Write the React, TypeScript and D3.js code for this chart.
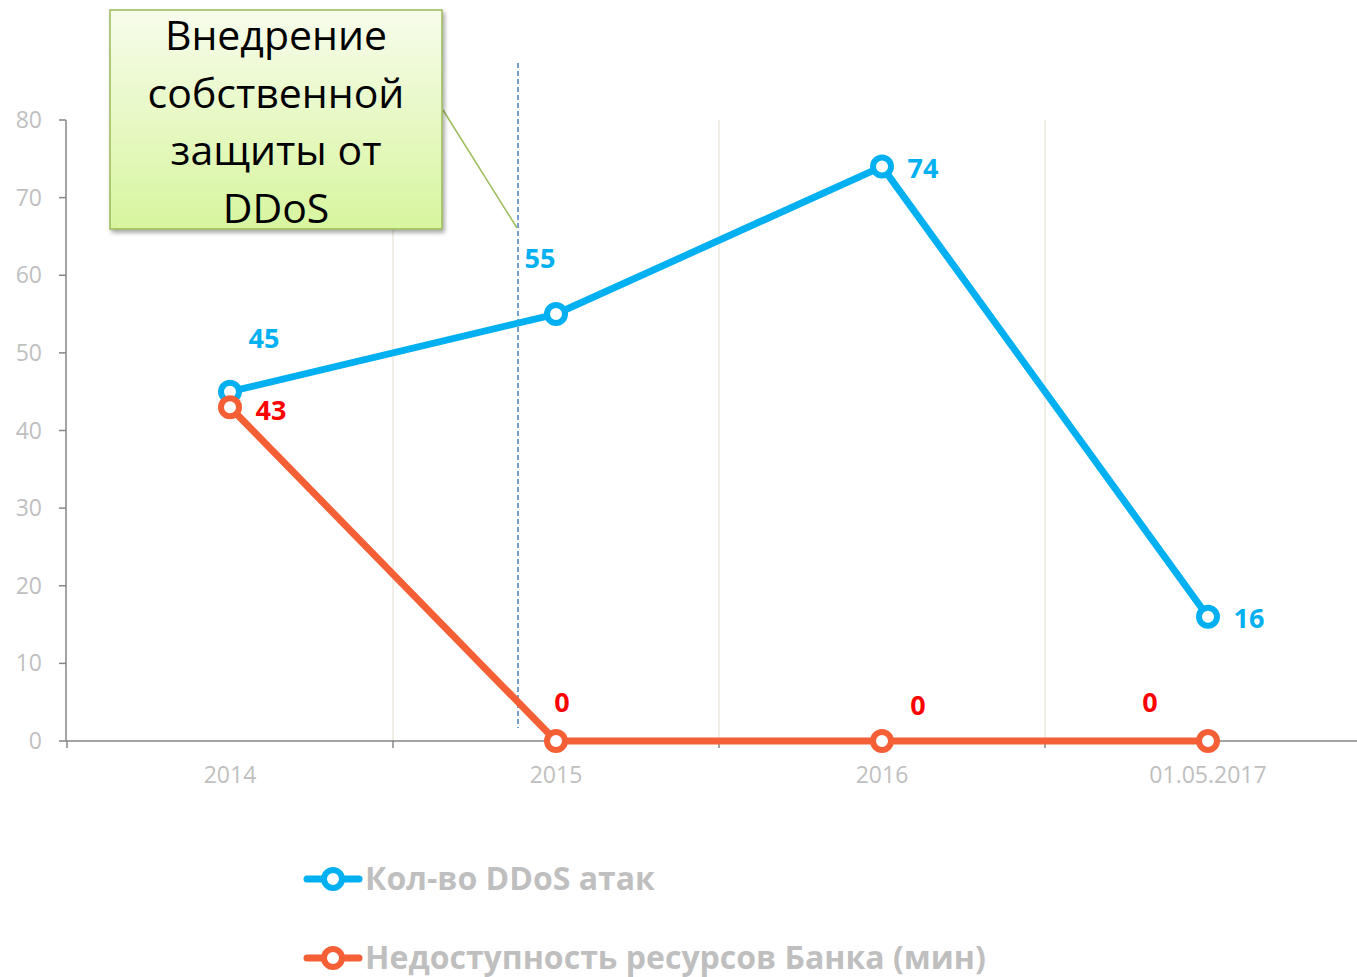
import React from 'react'
import * as d3 from 'd3'

const categories = ['2014', '2015', '2016', '01.05.2017']
const attacks = [45, 55, 74, 16]
const downtime = [43, 0, 0, 0]
const yTicks = [0, 10, 20, 30, 40, 50, 60, 70, 80]
const seriesNames = ['Кол-во DDoS атак', 'Недоступность ресурсов Банка (мин)']
const calloutLines = ['Внедрение', 'собственной', 'защиты от', 'DDoS']
// label offsets from their point (dx, dy)
const attackLabelOffsets = [[34, -53], [-16, -56], [41, 2], [41, 2]]
const downtimeLabelOffsets = [[41, 3], [6, -38], [36, -35], [-58, -38]]

const W = 1357
const H = 977
const BLUE = '#00B0F0'
const ORANGE = '#F55F35'
const FONT = '"Open Sans", sans-serif'

export default function App() {
  const x = d3.scaleBand().domain(categories).range([67, 1371])
  const cx = (c: string) => (x(c) as number) + x.bandwidth() / 2
  const y = d3.scaleLinear().domain([0, 80]).range([741, 120])

  const line = d3.line<number>()
    .x((_, i) => cx(categories[i]))
    .y(d => y(d))

  const bounds = categories.map(c => x(c) as number).concat([x.range()[1]])

  return (
    <svg width={W} height={H} style={{ position: 'absolute', left: 0, top: 0 }} fontFamily={FONT}>
      <defs>
        <linearGradient id="callout" x1="0" y1="0" x2="0" y2="1">
          <stop offset="0" stopColor="#f7fcec" />
          <stop offset="1" stopColor="#d7f59e" />
        </linearGradient>
        <filter id="shadow" x="-10%" y="-10%" width="130%" height="130%">
          <feDropShadow dx="2" dy="3" stdDeviation="2" floodColor="#000" floodOpacity="0.35" />
        </filter>
      </defs>

      {/* vertical gridlines */}
      {bounds.slice(1, 4).map((b, i) => (
        <line key={i} x1={b} x2={b} y1={y(80)} y2={y(0)} stroke="#ebe8dc" strokeWidth={1.5} />
      ))}

      {/* y axis */}
      <line x1={66} x2={66} y1={y(80)} y2={y(0)} stroke="#868686" strokeWidth={1.5} />
      {yTicks.map(t => (
        <g key={t}>
          <line x1={59} x2={66} y1={y(t)} y2={y(t)} stroke="#868686" strokeWidth={1.5} />
          <text x={42} y={y(t)} dy="0.35em" textAnchor="end" fontSize={23} fill="#bfbfbf">{t}</text>
        </g>
      ))}

      {/* x axis */}
      <line x1={66} x2={W} y1={y(0)} y2={y(0)} stroke="#868686" strokeWidth={1.5} />
      {bounds.slice(0, 4).map((b, i) => (
        <line key={i} x1={b} x2={b} y1={y(0)} y2={y(0) + 7} stroke="#868686" strokeWidth={1.5} />
      ))}
      {categories.map(c => (
        <text key={c} x={cx(c)} y={783} textAnchor="middle" fontSize={23} fill="#bfbfbf">{c}</text>
      ))}

      {/* dashed marker line */}
      <line x1={518} x2={518} y1={63} y2={728} stroke="#4a7ebb" strokeWidth={1.5} strokeDasharray="5,3" />

      {/* series lines */}
      <path d={line(attacks) || ''} fill="none" stroke={BLUE} strokeWidth={7} strokeLinejoin="round" />
      <path d={line(downtime) || ''} fill="none" stroke={ORANGE} strokeWidth={7} strokeLinejoin="round" />
      {attacks.map((v, i) => (
        <circle key={'a' + i} cx={cx(categories[i])} cy={y(v)} r={9} fill="#fff" stroke={BLUE} strokeWidth={6} />
      ))}
      {downtime.map((v, i) => (
        <circle key={'d' + i} cx={cx(categories[i])} cy={y(v)} r={9} fill="#fff" stroke={ORANGE} strokeWidth={6} />
      ))}

      {/* data labels */}
      {attacks.map((v, i) => (
        <text key={'la' + i} x={cx(categories[i]) + attackLabelOffsets[i][0]} y={y(v) + attackLabelOffsets[i][1]}
          dy="0.35em" textAnchor="middle" fontSize={27} fontWeight="bold" fill={BLUE}>{v}</text>
      ))}
      {downtime.map((v, i) => (
        <text key={'ld' + i} x={cx(categories[i]) + downtimeLabelOffsets[i][0]} y={y(v) + downtimeLabelOffsets[i][1]}
          dy="0.35em" textAnchor="middle" fontSize={27} fontWeight="bold" fill="#ff0000">{v}</text>
      ))}

      {/* callout */}
      <line x1={443} x2={517} y1={110} y2={228} stroke="#9bbb59" strokeWidth={1.5} />
      <rect x={110} y={10} width={332} height={219} fill="url(#callout)" stroke="#9bbb59" strokeWidth={1.5} filter="url(#shadow)" />
      {calloutLines.map((l, i) => (
        <text key={i} x={276} y={50 + i * 57.5} textAnchor="middle" fontSize={41} fill="#000">{l}</text>
      ))}

      {/* legend */}
      {seriesNames.map((n, i) => {
        const ly = 879 + i * 79
        const col = i === 0 ? BLUE : ORANGE
        return (
          <g key={n}>
            <line x1={307} x2={359} y1={ly} y2={ly} stroke={col} strokeWidth={7} strokeLinecap="round" />
            <circle cx={333} cy={ly} r={9} fill="#fff" stroke={col} strokeWidth={6} />
            <text x={365} y={ly} dy="0.35em" fontSize={32} fontWeight="bold" fill="#bfbfbf">{n}</text>
          </g>
        )
      })}
    </svg>
  )
}
